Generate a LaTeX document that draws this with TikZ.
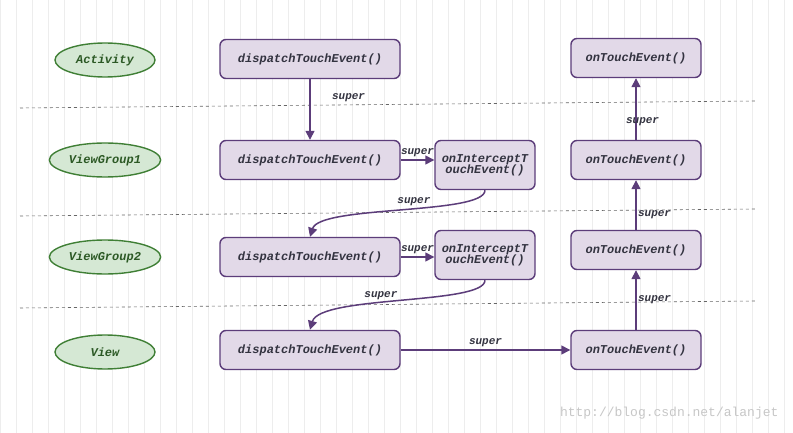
\documentclass[tikz,border=0pt]{standalone}
\usepackage{fontspec}
\setmainfont{Liberation Mono}
\usetikzlibrary{shapes.geometric,arrows.meta}
\definecolor{bfill}{HTML}{E2D9E8}
\definecolor{bdraw}{HTML}{5C3D7A}
\definecolor{gfill}{HTML}{D5E8D4}
\definecolor{gdraw}{HTML}{3F7F35}
\definecolor{txt}{HTML}{333340}
\begin{document}
\begin{tikzpicture}[x=1pt,y=-1pt,
  every node/.style={font=\fontsize{12}{13}\selectfont\bfseries\itshape, text=txt},
  box/.style={draw=bdraw,fill=bfill,line width=1.4pt,rounded corners=6pt,align=center,inner sep=0pt},
  ell/.style={ellipse,draw=gdraw,fill=gfill,line width=1.4pt,minimum width=100pt,minimum height=34pt,text=gdraw!70!black},
  arr/.style={draw=bdraw,line width=1.5pt,-{Triangle[length=9pt,width=9pt]}},
  lab/.style={font=\fontsize{11}{12}\selectfont\bfseries\itshape},
  sep/.style={draw=gray!80!black,dashed,line width=0.6pt}]
\useasboundingbox (0,0) rectangle (793,433);
\fill[white] (0,0) rectangle (793,433);
\draw[black!7,line width=0.5pt,step=16] (0,0) grid (793,433);
\draw[sep] (20,108) -- (755,101);
\draw[sep] (20,216) -- (755,209);
\draw[sep] (20,308) -- (755,301);
\node[ell] (a) at (105,60) {Activity};
\node[ell] (g1) at (105,160) {ViewGroup1};
\node[ell] (g2) at (105,257) {ViewGroup2};
\node[ell] (v) at (105,352) {View};
\node[box,minimum width=180pt,minimum height=39pt] (d1) at (310,59) {dispatchTouchEvent()};
\node[box,minimum width=180pt,minimum height=39pt] (d2) at (310,160) {dispatchTouchEvent()};
\node[box,minimum width=180pt,minimum height=39pt] (d3) at (310,257) {dispatchTouchEvent()};
\node[box,minimum width=180pt,minimum height=39pt] (d4) at (310,350) {dispatchTouchEvent()};
\node[box,minimum width=100pt,minimum height=49pt] (i1) at (485,165) {onInterceptT\\[-2pt]ouchEvent()};
\node[box,minimum width=100pt,minimum height=49pt] (i2) at (485,255) {onInterceptT\\[-2pt]ouchEvent()};
\node[box,minimum width=130pt,minimum height=39pt] (t1) at (636,58) {onTouchEvent()};
\node[box,minimum width=130pt,minimum height=39pt] (t2) at (636,160) {onTouchEvent()};
\node[box,minimum width=130pt,minimum height=39pt] (t3) at (636,250) {onTouchEvent()};
\node[box,minimum width=130pt,minimum height=39pt] (t4) at (636,350) {onTouchEvent()};
\draw[arr] (d1) -- (d2) node[lab,pos=0.3,right=18pt] {super};
\draw[arr] (d2.east) -- (i1.west|-d2.east) node[lab,midway,above=-1pt] {super};
\draw[arr] (i1.south) .. controls (485,215) and (320,205) .. (d3.north) node[lab,pos=0.45,above] {super};
\draw[arr] (d3.east) -- (i2.west|-d3.east) node[lab,midway,above=-1pt] {super};
\draw[arr] (i2.south) .. controls (485,305) and (320,295) .. (d4.north) node[lab,pos=0.58,above] {super};
\draw[arr] (d4) -- (t4) node[lab,midway,above=-1pt] {super};
\draw[arr] (t4) -- (t3) node[lab,midway,right=-2pt] {super};
\draw[arr] (t3) -- (t2) node[lab,pos=0.3,right=-2pt] {super};
\draw[arr] (t2) -- (t1) node[lab,pos=0.3,right=-14pt] {super};
\node[font=\fontsize{13}{14}\selectfont, text=black!22, anchor=south east] (wm) at (782,423) {http://blog.csdn.net/alanjet};
\end{tikzpicture}
\end{document}
